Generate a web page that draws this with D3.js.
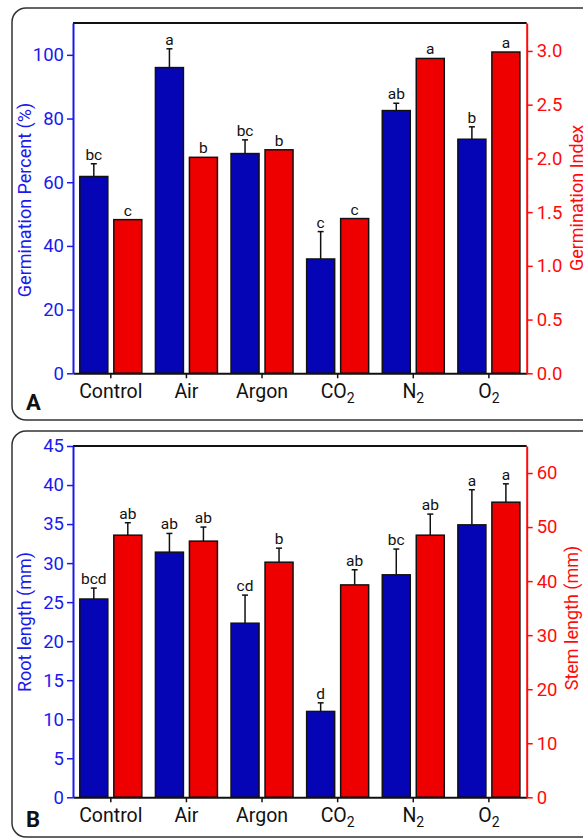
<!DOCTYPE html>
<html>
<head>
<meta charset="utf-8">
<script src="https://cdn.jsdelivr.net/npm/d3@7"></script>
<style>
  body { margin: 0; background: #fff; }
  svg { display: block; font-family: Roboto, "Noto Sans", sans-serif; }
</style>
</head>
<body>
<script>
  /* DATA */
  var categories = ["Control", "Air", "Argon", "CO2", "N2", "O2"];
  var catMain = ["Control", "Air", "Argon", "CO", "N", "O"];
  var catSub = ["", "", "", "2", "2", "2"];

  var germPercent = [61.8, 96.0, 69.0, 35.9, 82.5, 73.5];
  var germPercentErr = [4.0, 5.9, 4.3, 8.6, 2.3, 3.9];
  var germPercentLetters = ["bc", "a", "bc", "c", "ab", "b"];
  var germIndex = [1.43, 2.01, 2.08, 1.44, 2.93, 2.99];
  var germIndexErr = [0, 0, 0, 0, 0, 0];
  var germIndexLetters = ["c", "b", "b", "c", "a", "a"];

  var rootLength = [25.4, 31.4, 22.3, 11.0, 28.5, 34.9];
  var rootLengthErr = [1.4, 2.4, 3.6, 1.1, 3.3, 4.5];
  var rootLetters = ["bcd", "ab", "cd", "d", "bc", "a"];
  var stemLength = [48.5, 47.4, 43.5, 39.3, 48.5, 54.6];
  var stemLengthErr = [2.3, 2.6, 2.6, 2.8, 3.9, 3.4];
  var stemLetters = ["ab", "ab", "b", "ab", "ab", "a"];

  var germPctTicks = [0, 20, 40, 60, 80, 100];
  var germPctMinor = [10, 30, 50, 70, 90];
  var germIdxTicks = [0, 0.5, 1.0, 1.5, 2.0, 2.5, 3.0];
  var germIdxMinor = [0.25, 0.75, 1.25, 1.75, 2.25, 2.75];
  var rootTicks = [0, 5, 10, 15, 20, 25, 30, 35, 40, 45];
  var rootMinor = [2.5, 7.5, 12.5, 17.5, 22.5, 27.5, 32.5, 37.5, 42.5];
  var stemTicks = [0, 10, 20, 30, 40, 50, 60];
  var stemMinor = [5, 15, 25, 35, 45, 55];

  var width = 583, height = 840;
  var blueBar = "#0505b5", redBar = "#ee0000";
  var blueAxis = "#1a1aee", redAxis = "#ff0a0a";

  var svg = d3.select("body").append("svg")
    .attr("width", width)
    .attr("height", height);

  function drawPanel(p) {
    // rounded frame
    svg.append("rect")
      .attr("x", 12).attr("y", p.frameTop)
      .attr("width", 620).attr("height", p.frameH)
      .attr("rx", 14)
      .attr("fill", "none").attr("stroke", "#333").attr("stroke-width", 1.5);

    var x = d3.scaleBand().domain(categories).range([73, 526.7]);
    var x1 = d3.scaleBand().domain(["l", "r"]).range([0, x.bandwidth()])
      .paddingInner(0.176).paddingOuter(0.2);
    var yL = d3.scaleLinear().domain(p.leftDomain).range([p.bottom, p.top]);
    var yR = d3.scaleLinear().domain(p.rightDomain).range([p.bottom, p.top]);

    var series = [
      { key: "l", vals: p.leftVals, errs: p.leftErr, letters: p.leftLetters, y: yL, fill: blueBar },
      { key: "r", vals: p.rightVals, errs: p.rightErr, letters: p.rightLetters, y: yR, fill: redBar }
    ];

    series.forEach(function(s) {
      var g = svg.append("g");
      categories.forEach(function(c, i) {
        var bx = x(c) + x1(s.key);
        var bw = x1.bandwidth();
        var v = s.vals[i], e = s.errs[i];
        g.append("rect")
          .attr("x", bx).attr("y", s.y(v))
          .attr("width", bw).attr("height", s.y(0) - s.y(v))
          .attr("fill", s.fill).attr("stroke", "#111").attr("stroke-width", 1.5);
        var topY = s.y(v + e);
        if (e > 0) {
          g.append("line")
            .attr("x1", bx + bw / 2).attr("x2", bx + bw / 2)
            .attr("y1", s.y(v)).attr("y2", topY)
            .attr("stroke", "#111").attr("stroke-width", 1.5);
          g.append("line")
            .attr("x1", bx + bw / 2 - 3).attr("x2", bx + bw / 2 + 3)
            .attr("y1", topY).attr("y2", topY)
            .attr("stroke", "#111").attr("stroke-width", 1.5);
        }
        g.append("text")
          .attr("x", bx + bw / 2).attr("y", topY - 4)
          .attr("text-anchor", "middle")
          .attr("font-size", 15.5).attr("fill", "#111")
          .text(s.letters[i]);
      });
    });

    // frame of the plot: top line
    svg.append("line")
      .attr("x1", 73).attr("x2", 526.7).attr("y1", p.top).attr("y2", p.top)
      .attr("stroke", "#111").attr("stroke-width", 2);

    // bottom axis
    var xAxis = svg.append("g")
      .attr("transform", "translate(0," + p.bottom + ")")
      .call(d3.axisBottom(x).tickSize(5).tickSizeOuter(0).tickFormat(""));
    xAxis.select(".domain").attr("stroke", "#111").attr("stroke-width", 2);
    xAxis.selectAll(".tick line").attr("stroke", "#111").attr("stroke-width", 1.5);
    categories.forEach(function(c, i) {
      var t = svg.append("text")
        .attr("x", x(c) + x.bandwidth() / 2).attr("y", p.bottom + 25)
        .attr("text-anchor", "middle")
        .attr("font-size", 19.5).attr("fill", "#111");
      t.append("tspan").text(catMain[i]);
      if (catSub[i]) {
        t.append("tspan").attr("font-size", 14).attr("dy", 5).text(catSub[i]);
      }
    });

    // left axis
    var la = svg.append("g").attr("transform", "translate(73,0)");
    la.call(d3.axisLeft(yL).tickValues(p.leftMinor).tickSize(3).tickSizeOuter(0).tickFormat(""));
    la.call(d3.axisLeft(yL).tickValues(p.leftTicks).tickSize(6).tickPadding(3).tickSizeOuter(0));
    la.selectAll(".domain").attr("stroke", blueAxis).attr("stroke-width", 2);
    la.selectAll(".tick line").attr("stroke", blueAxis).attr("stroke-width", 1.5);
    la.selectAll(".tick text").attr("fill", blueAxis).attr("font-size", 18.5)
      .attr("font-family", "Roboto");

    // right axis
    var ra = svg.append("g").attr("transform", "translate(526.7,0)");
    ra.call(d3.axisRight(yR).tickValues(p.rightMinor).tickSize(3).tickSizeOuter(0).tickFormat(""));
    ra.call(d3.axisRight(yR).tickValues(p.rightTicks).tickSize(6).tickPadding(4).tickSizeOuter(0)
      .tickFormat(p.rightFmt));
    ra.selectAll(".domain").attr("stroke", redAxis).attr("stroke-width", 2);
    ra.selectAll(".tick line").attr("stroke", redAxis).attr("stroke-width", 1.5);
    ra.selectAll(".tick text").attr("fill", redAxis).attr("font-size", 18.5)
      .attr("font-family", "Roboto");

    // axis titles
    svg.append("text")
      .attr("transform", "translate(31," + p.leftTitleY + ") rotate(-90)")
      .attr("text-anchor", "middle").attr("font-size", 18).attr("fill", blueAxis)
      .text(p.leftTitle);
    svg.append("text")
      .attr("transform", "translate(" + p.rightTitleX + "," + p.rightTitleY + ") rotate(-90)")
      .attr("text-anchor", "middle").attr("font-size", 18).attr("fill", redAxis)
      .text(p.rightTitle);

    // panel letter
    svg.append("text")
      .attr("x", 26).attr("y", p.frameTop + p.frameH - 10)
      .attr("font-size", 22).attr("font-weight", "bold").attr("fill", "#111")
      .text(p.letter);
  }

  drawPanel({
    frameTop: 8, frameH: 412, top: 23, bottom: 373.3,
    leftDomain: [0, 110], rightDomain: [0, 3.26],
    leftVals: germPercent, leftErr: germPercentErr, leftLetters: germPercentLetters,
    rightVals: germIndex, rightErr: germIndexErr, rightLetters: germIndexLetters,
    leftTicks: germPctTicks, leftMinor: germPctMinor,
    rightTicks: germIdxTicks, rightMinor: germIdxMinor, rightFmt: d3.format(".1f"),
    leftTitle: "Germination Percent (%)", leftTitleY: 200,
    rightTitle: "Germination Index", rightTitleX: 583, rightTitleY: 198,
    letter: "A"
  });

  drawPanel({
    frameTop: 431, frameH: 406, top: 446, bottom: 797.3,
    leftDomain: [0, 45], rightDomain: [0, 65],
    leftVals: rootLength, leftErr: rootLengthErr, leftLetters: rootLetters,
    rightVals: stemLength, rightErr: stemLengthErr, rightLetters: stemLetters,
    leftTicks: rootTicks, leftMinor: rootMinor,
    rightTicks: stemTicks, rightMinor: stemMinor, rightFmt: d3.format("d"),
    leftTitle: "Root length (mm)", leftTitleY: 622,
    rightTitle: "Stem length (mm)", rightTitleX: 578, rightTitleY: 618,
    letter: "B"
  });
</script>
</body>
</html>
